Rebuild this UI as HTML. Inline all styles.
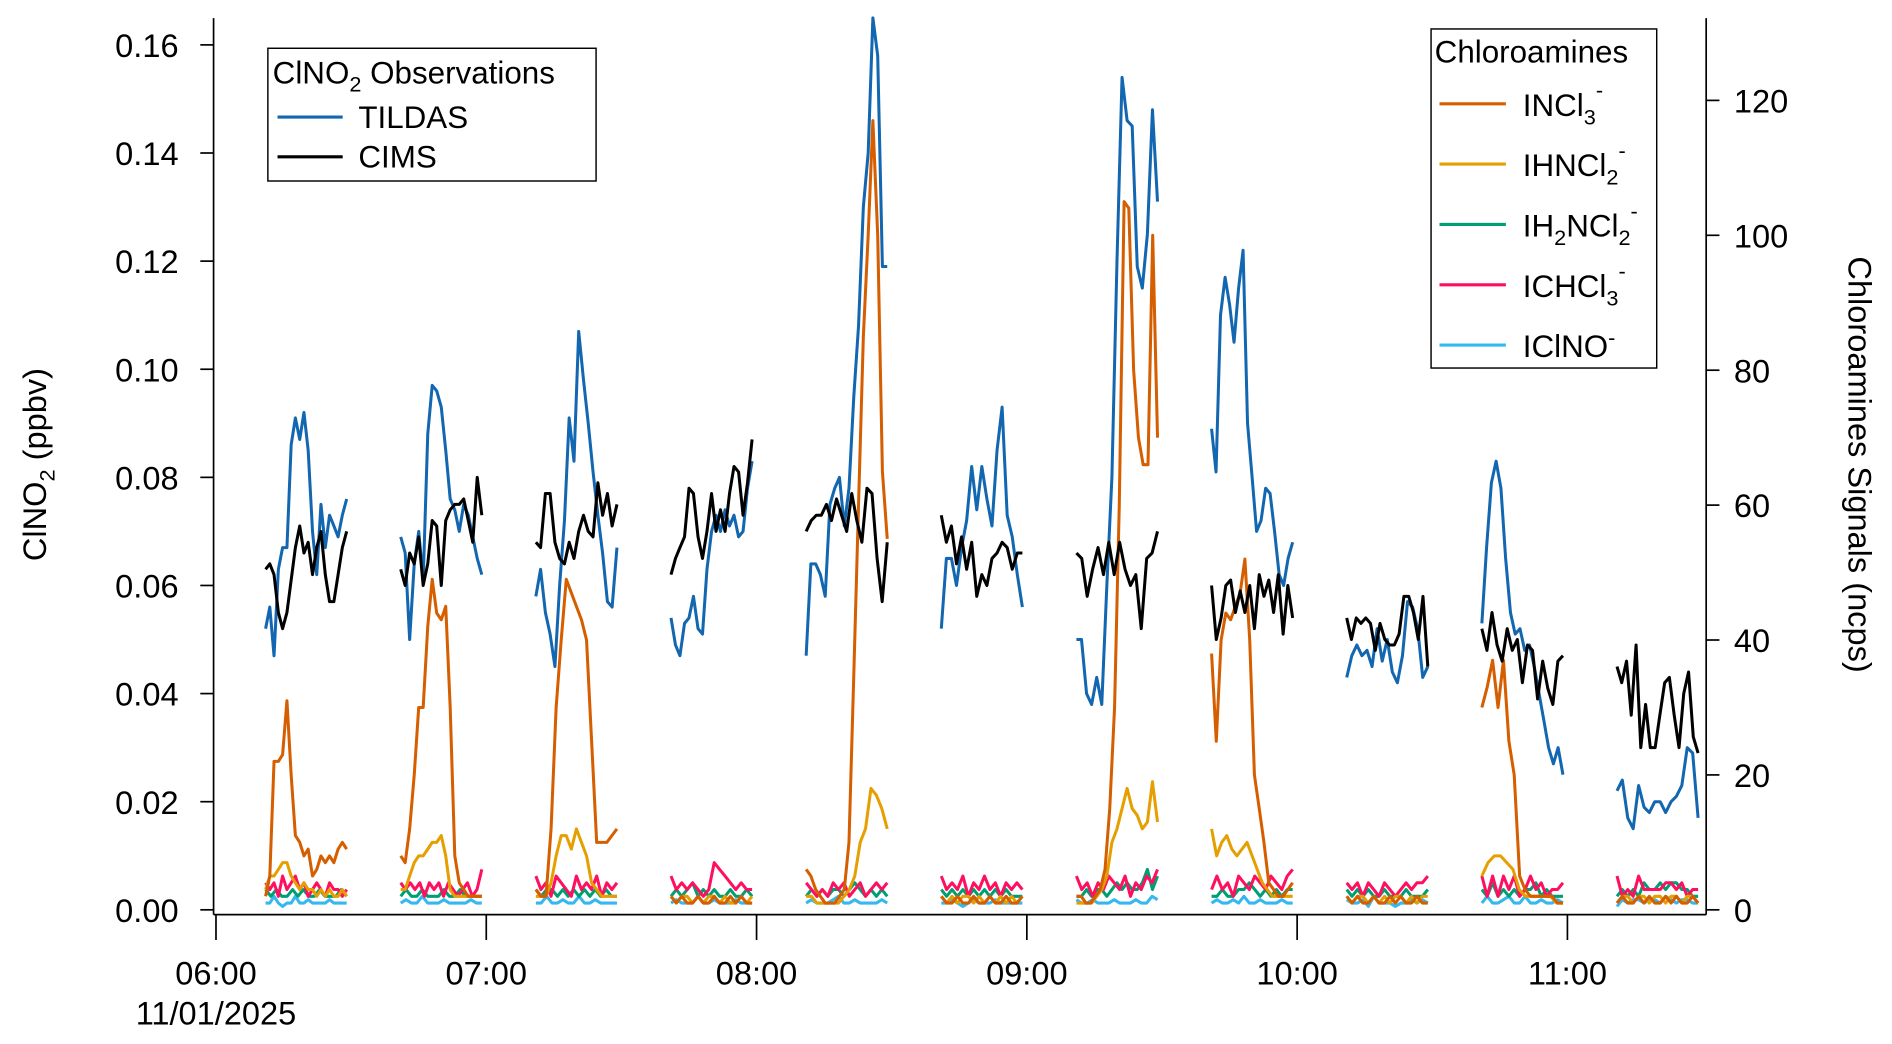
<!DOCTYPE html>
<html><head><meta charset="utf-8"><style>
html,body{margin:0;padding:0;background:#fff;}
svg{display:block;font-family:"Liberation Sans",Arial,sans-serif;}
</style></head><body>
<svg id="chart" width="1892" height="1044" viewBox="0 0 1568 865.2" preserveAspectRatio="none" xmlns="http://www.w3.org/2000/svg">
<rect width="1568" height="866" fill="#fff"/>
<g id="axes"></g>
<g id="series"></g>
<g id="legend-left">
<rect x="222" y="40" width="272" height="110" fill="#fff" stroke="#000" stroke-width="1.2"/>
<text x="226" y="69" font-size="26">ClNO<tspan font-size="18" dy="7">2</tspan><tspan dy="-7"> Observations</tspan></text>
<line x1="230" y1="97" x2="284" y2="97" stroke="#1267b0" stroke-width="2.6"/>
<text x="297" y="106" font-size="26">TILDAS</text>
<line x1="230" y1="130" x2="284" y2="130" stroke="#000" stroke-width="2.6"/>
<text x="297" y="139" font-size="26">CIMS</text>
</g>
<g id="legend-right">
<rect x="1186" y="24" width="187" height="281" fill="#fff" stroke="#000" stroke-width="1.2"/>
<text x="1189" y="52" font-size="26">Chloroamines</text>
<line x1="1193" y1="86" x2="1248" y2="86" stroke="#d55e00" stroke-width="2.6"/>
<text x="1262" y="96" font-size="26">INCl<tspan font-size="18" dy="7">3</tspan><tspan font-size="18" dy="-22">-</tspan></text>
<line x1="1193" y1="136" x2="1248" y2="136" stroke="#e69f00" stroke-width="2.6"/>
<text x="1262" y="146" font-size="26">IHNCl<tspan font-size="18" dy="7">2</tspan><tspan font-size="18" dy="-22">-</tspan></text>
<line x1="1193" y1="186" x2="1248" y2="186" stroke="#009e73" stroke-width="2.6"/>
<text x="1262" y="196" font-size="26">IH<tspan font-size="18" dy="7">2</tspan><tspan dy="-7">NCl</tspan><tspan font-size="18" dy="7">2</tspan><tspan font-size="18" dy="-22">-</tspan></text>
<line x1="1193" y1="236" x2="1248" y2="236" stroke="#ff0f5f" stroke-width="2.6"/>
<text x="1262" y="246" font-size="26">ICHCl<tspan font-size="18" dy="7">3</tspan><tspan font-size="18" dy="-22">-</tspan></text>
<line x1="1193" y1="286" x2="1248" y2="286" stroke="#35b8f0" stroke-width="2.6"/>
<text x="1262" y="296" font-size="26">IClNO<tspan font-size="18" dy="-10">-</tspan></text>
</g>
</svg>
<script>
// segment start times (minutes after 06:00); each segment spans 18 min
const segStarts = [11,41,71,101,131,161,191,221,251,281,311];
const segDuration = 18;
const tildas = [
[0.052,0.056,0.047,0.063,0.067,0.067,0.086,0.091,0.087,0.092,0.085,0.070,0.062,0.075,0.067,0.073,0.071,0.069,0.073,0.076],
[0.069,0.066,0.050,0.064,0.070,0.061,0.088,0.097,0.096,0.093,0.085,0.076,0.074,0.070,0.075,0.073,0.069,0.065,0.062],
[0.058,0.063,0.055,0.051,0.045,0.060,0.072,0.091,0.083,0.107,0.098,0.090,0.081,0.073,0.066,0.057,0.056,0.067],
[0.054,0.049,0.047,0.053,0.054,0.058,0.052,0.051,0.063,0.070,0.073,0.070,0.074,0.071,0.073,0.069,0.070,0.078,0.083],
[0.047,0.064,0.064,0.062,0.058,0.075,0.078,0.080,0.071,0.078,0.095,0.108,0.130,0.140,0.165,0.158,0.119,0.119],
[0.052,0.065,0.065,0.060,0.067,0.072,0.082,0.074,0.082,0.076,0.071,0.085,0.093,0.073,0.069,0.062,0.056],
[0.050,0.050,0.040,0.038,0.043,0.038,0.060,0.080,0.120,0.154,0.146,0.145,0.119,0.115,0.125,0.148,0.131],
[0.089,0.081,0.110,0.117,0.112,0.105,0.115,0.122,0.090,0.080,0.070,0.072,0.078,0.077,0.070,0.062,0.060,0.065,0.068],
[0.043,0.047,0.049,0.047,0.048,0.045,0.052,0.046,0.050,0.044,0.042,0.047,0.057,0.056,0.052,0.043,0.045],
[0.053,0.067,0.079,0.083,0.078,0.065,0.055,0.051,0.052,0.048,0.049,0.045,0.040,0.035,0.030,0.027,0.030,0.025],
[0.022,0.024,0.017,0.015,0.023,0.019,0.018,0.020,0.020,0.018,0.020,0.021,0.023,0.030,0.029,0.017]];
const cims = [
[0.063,0.064,0.062,0.055,0.052,0.055,0.061,0.067,0.071,0.066,0.068,0.062,0.067,0.070,0.062,0.057,0.057,0.062,0.067,0.070],
[0.063,0.060,0.066,0.064,0.069,0.060,0.064,0.072,0.071,0.060,0.072,0.074,0.075,0.075,0.076,0.072,0.068,0.080,0.073],
[0.068,0.067,0.077,0.077,0.068,0.065,0.064,0.068,0.065,0.070,0.073,0.070,0.069,0.079,0.073,0.077,0.071,0.075],
[0.062,0.065,0.067,0.069,0.078,0.077,0.069,0.065,0.070,0.077,0.070,0.074,0.070,0.077,0.082,0.081,0.073,0.079,0.087],
[0.070,0.072,0.073,0.073,0.075,0.072,0.076,0.073,0.070,0.077,0.072,0.068,0.078,0.077,0.065,0.057,0.068],
[0.073,0.068,0.071,0.064,0.069,0.063,0.068,0.058,0.062,0.060,0.065,0.066,0.068,0.067,0.063,0.066,0.066],
[0.066,0.065,0.058,0.063,0.067,0.062,0.068,0.062,0.068,0.063,0.060,0.062,0.052,0.065,0.066,0.070],
[0.060,0.050,0.054,0.060,0.061,0.055,0.059,0.055,0.060,0.052,0.062,0.058,0.061,0.055,0.062,0.051,0.060,0.054],
[0.054,0.050,0.054,0.053,0.054,0.053,0.048,0.053,0.050,0.049,0.049,0.051,0.058,0.058,0.055,0.050,0.058,0.045],
[0.052,0.048,0.055,0.049,0.046,0.052,0.048,0.050,0.042,0.049,0.048,0.039,0.046,0.041,0.038,0.046,0.047],
[0.045,0.042,0.046,0.036,0.049,0.030,0.038,0.030,0.030,0.036,0.042,0.043,0.036,0.030,0.040,0.044,0.032,0.029]];
const incl3 = [
[2,5,22,22,23,31,20,11,10,8,9,5,6,8,7,8,7,9,10,9],
[8,7,12,20,30,30,42,49,44,43,45,30,8,4,3,2,2,2,2],
[3,2,2,12,30,40,49,47,45,43,40,25,10,10,10,11,12],
[2,1,2,1,1,2,1,1,2,1,1,2,1,2,1,1],
[6,5,3,2,1,1,1,2,3,10,35,60,85,100,117,100,65,55],
[2,1,1,2,1,1,2,1,1,2,1,1,2,1,1,2],
[2,2,1,1,2,3,6,15,30,60,105,104,80,70,66,66,100,70],
[38,25,40,44,43,45,47,52,40,20,15,10,4,3,2,2,3,4],
[2,1,2,1,1,2,1,1,2,1,2,1,1,2,1,1],
[30,33,37,30,37,25,20,5,3,2,2,2,2,2,1,1],
[1,2,1,1,2,1,2,1,1,2,1,2,1,1,2,1]];
const ihncl2 = [
[3,5,5,6,7,7,5,4,3,4,3,3,2,3,2,3,2,2,3,2],
[3,3,5,7,8,8,9,10,10,11,8,3,2,2,2,2,2,2,2],
[2,2,2,4,8,11,11,9,12,10,8,4,3,2,2,2,2],
[2,1,2,2,1,2,1,2,2,1,2,1,1,2,1,2],
[2,2,1,1,1,1,1,2,3,5,10,12,18,17,15,12],
[2,1,2,1,2,2,1,2,1,2,1,2,1,2,1,2],
[1,1,1,1,2,3,5,10,12,15,18,15,14,12,13,19,13],
[12,8,10,11,9,8,9,10,8,6,4,3,2,2,2,2,2],
[2,1,2,2,1,2,1,2,1,2,2,1,2,1,2,2],
[5,7,8,8,7,6,3,2,2,2,2,2,1,1],
[1,2,2,1,2,2,1,2,2,1,2,2,1,2,2,1]];
const ih2ncl2 = [
[3,2,3,2,2,3,2,3,2,2,3,2,2,2,3,2],
[2,3,2,2,3,2,2,2,3,2,2,3,2,2,2,2],
[3,2,3,3,2,3,2,3,2,3,2,3,2,3,2,2],
[2,3,2,3,4,2,3,2,3,2,2,3,2,2,3,2],
[2,3,2,3,2,3,3,2,3,4,3,2,3,2,3,2],
[3,2,3,2,3,2,3,2,3,2,3,2,3,2,2,2],
[2,2,3,2,3,3,2,3,4,3,4,3,3,4,6,3,5],
[2,2,3,2,2,3,3,4,3,2,3,2,3,2,3,3],
[3,2,3,2,3,2,2,3,2,2,2,3,2,2,2,3],
[3,2,4,2,3,2,3,2,3,3,4,2,3,2,2,2],
[2,3,2,3,2,4,3,3,4,3,4,4,3,3,2,2]];
const ichcl3 = [
[4,3,4,2,5,3,4,5,3,4,2,3,4,3,2,4,3,3,2,3],
[4,3,4,3,4,2,4,3,4,2,4,3,2,3,4,2,3,6],
[5,3,4,2,5,4,3,2,5,3,4,3,5,2,4,3,4],
[5,3,4,3,4,3,2,3,7,6,5,4,3,4,3,3],
[4,3,2,3,2,4,3,4,2,3,4,2,3,4,3,4],
[5,3,4,3,5,2,4,3,5,3,4,2,4,3,4,3],
[5,3,4,2,4,3,5,4,3,5,2,4,3,5,4,6],
[3,5,3,4,2,5,4,3,5,4,3,5,4,3,5,6],
[4,3,4,2,4,3,2,4,3,2,3,4,3,4,4,5],
[5,2,5,2,5,3,5,2,3,5,3,4,2,3,3,4],
[5,2,3,2,5,3,3,3,3,4,4,3,4,2,3,3]];
const iclno = [
[1,1,2,1,0.5,1,1,2,1,1,1.5,1,1,1,1,1.5,1,1,1,1],
[1,1.5,1,1,2,1,1,1,1.5,1,1,1,1,1.5,1,1],
[1,1,2,1,1,1.5,1,1,2,1,1,1.5,1,1,1,1],
[1,1.5,1,1,1,2,1,1,1.5,1,1,1,1.5,1,1,1],
[1,1.5,1,1,1,1.5,2,1,1,1.5,1,1,1,1,1.5,1],
[1,1,1.5,1,0.5,1,1.5,1,1,1,1.5,1,1,1,1,1],
[1.5,1,1,1.5,1,1,1,1.5,1,1,1,1.5,1,1,2,1.5],
[1,1.5,1,1,1.5,1,2,1,1,1.5,1,1,1,1.5,1,1],
[1.5,1,1,1.5,0.5,2,1,1,1,0.5,1,1,1.5,1,1.5,1],
[1,2,1,1,1.5,2,1,1,2,1,1,1.5,1,1,1.5,1],
[0.5,1.5,1,1.5,1.5,1,1.5,1.5,1,2,1.5,1,1.5,1.5,1,1]];
const leftTicks = ["0.00","0.02","0.04","0.06","0.08","0.10","0.12","0.14","0.16"];
const rightTicks = ["0","20","40","60","80","100","120"];
const xTickLabels = ["06:00","07:00","08:00","09:00","10:00","11:00"];

const NS="http://www.w3.org/2000/svg";
function X(min){return 179 + min*224/60;}
function YL(v){return 754 - v*4480;}
function YR(v){return 754 - v*5.59;}
function mk(tag,attrs,parent,txt){const e=document.createElementNS(NS,tag);for(const k in attrs)e.setAttribute(k,attrs[k]);if(txt!==undefined)e.textContent=txt;parent.appendChild(e);return e;}
const axes=document.getElementById('axes');
const ser=document.getElementById('series');
let a;
a=mk('line',{x1:177,y1:15,x2:177,y2:758,stroke:'#000','stroke-width':1.4},axes);


a=mk('line',{x1:1414,y1:15,x2:1414,y2:758,stroke:'#000','stroke-width':1.4},axes);


a=mk('line',{x1:177,y1:758,x2:1414,y2:758,stroke:'#000','stroke-width':1.4},axes);


leftTicks.forEach(t=>{const y=YL(parseFloat(t));
  mk('line',{x1:166,y1:y,x2:177,y2:y,stroke:'#000','stroke-width':1.4},axes);
  const e=mk('text',{x:148,y:y+10,'font-size':27,'text-anchor':'end'},axes,t);
  
  });
rightTicks.forEach(t=>{const y=YR(parseFloat(t));
  mk('line',{x1:1414,y1:y,x2:1425,y2:y,stroke:'#000','stroke-width':1.4},axes);
  const e=mk('text',{x:1437,y:y+10,'font-size':27},axes,t);
  
  });
xTickLabels.forEach((t,i)=>{const x=X(i*60);
  mk('line',{x1:x,y1:758,x2:x,y2:779,stroke:'#000','stroke-width':1.4},axes);
  const e=mk('text',{x:x,y:816,'font-size':27,'text-anchor':'middle'},axes,t);
  
  });
a=mk('text',{x:179,y:849,'font-size':27,'text-anchor':'middle'},axes,'11/01/2025');


a=mk('text',{transform:'translate(38,385) rotate(-90)','font-size':27,'text-anchor':'middle'},axes);
a.innerHTML='ClNO<tspan font-size="18" dy="7">2</tspan><tspan dy="-7"> (ppbv)</tspan>';


a=mk('text',{transform:'translate(1532,385) rotate(90)','font-size':27,'text-anchor':'middle'},axes,'Chloroamines Signals (ncps)');



function draw(data,yf,color,name){
  data.forEach((seg,i)=>{
    const s=segStarts[i], n=seg.length;
    const pts=seg.map((v,j)=>X(s+j*segDuration/(n-1)).toFixed(1)+','+yf(v).toFixed(1)).join(' ');
    const p=mk('polyline',{points:pts,fill:'none',stroke:color,'stroke-width':2.5,'stroke-linejoin':'round'},ser);
    
    
  });
}
draw(iclno,YR,'#35b8f0','iclno');
draw(ih2ncl2,YR,'#009e73','ih2ncl2');
draw(ichcl3,YR,'#ff0f5f','ichcl3');
draw(ihncl2,YR,'#e69f00','ihncl2');
draw(incl3,YR,'#d55e00','incl3');
draw(tildas,YL,'#1267b0','tildas');
draw(cims,YL,'#000000','cims');
</script>
</body></html>
